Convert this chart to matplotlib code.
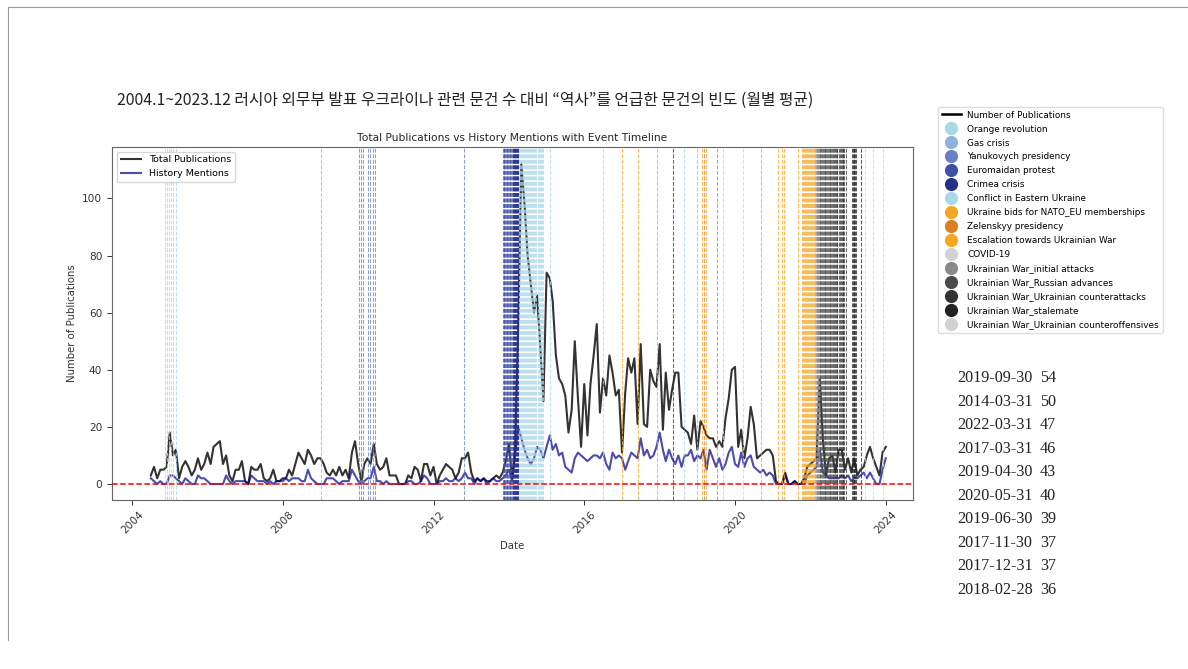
import numpy as np
import pandas as pd
import matplotlib
matplotlib.use('Agg')
import matplotlib.pyplot as plt
import matplotlib.dates as mdates
from matplotlib.lines import Line2D

# monthly averages, Jun 2004 .. Dec 2023 (one row per calendar year)
months = pd.date_range('2004-06-30', '2023-12-31', freq='ME')

total_pubs = [
    3, 6, 2, 5, 5, 6, 18,
    10, 12, 2, 6, 8, 6, 3, 5, 9, 5, 7, 11,
    7, 13, 14, 15, 7, 10, 3, 1, 5, 5, 8, 1,
    0, 6, 5, 5, 7, 2, 1, 2, 5, 1, 1, 2,
    2, 5, 3, 7, 11, 9, 7, 12, 10, 7, 9, 9,
    7, 4, 3, 5, 3, 6, 3, 5, 2, 11, 15, 7,
    1, 7, 9, 7, 14, 7, 5, 6, 9, 3, 3, 3,
    0, 0, 0, 3, 2, 6, 5, 1, 7, 7, 3, 6,
    0, 3, 5, 7, 6, 5, 2, 4, 9, 9, 11, 4,
    1, 2, 1, 2, 1, 1, 2, 3, 2, 4, 8, 14,
    2, 12, 55, 112, 98, 80, 70, 60, 66, 48, 29, 74,
    72, 64, 45, 37, 35, 31, 18, 26, 50, 30, 13, 35,
    17, 35, 45, 56, 25, 37, 31, 45, 39, 31, 33, 11,
    32, 44, 39, 44, 21, 49, 21, 20, 40, 36, 34, 49,
    19, 39, 26, 33, 39, 39, 20, 19, 18, 14, 24, 12,
    22, 20, 17, 16, 16, 13, 15, 13, 23, 30, 40, 41,
    13, 19, 9, 16, 27, 21, 9, 10, 11, 12, 12, 10,
    1, 0, 0, 4, 0, 0, 1, 0, 0, 2, 6, 7,
    8, 9, 37, 16, 3, 9, 10, 4, 12, 12, 5, 9,
    4, 9, 3, 5, 6, 10, 13, 9, 6, 3, 11, 13,
]

history_mentions = [
    2, 1, 0, 1, 0, 0, 3,
    3, 2, 1, 0, 2, 1, 0, 0, 3, 2, 2, 1,
    0, 0, 0, 0, 0, 3, 1, 0, 1, 1, 1, 1,
    0, 3, 2, 1, 1, 1, 0, 1, 0, 1, 1, 1,
    2, 1, 2, 2, 2, 1, 1, 5, 2, 1, 0, 0,
    0, 2, 2, 2, 1, 0, 1, 1, 1, 5, 3, 1,
    0, 1, 2, 2, 6, 1, 1, 0, 1, 0, 0, 0,
    0, 0, 0, 1, 1, 0, 0, 1, 3, 2, 0, 0,
    0, 1, 1, 2, 1, 1, 2, 1, 2, 4, 2, 2,
    0, 2, 1, 2, 0, 1, 2, 1, 1, 2, 3, 5,
    1, 10, 20, 16, 12, 9, 7, 9, 13, 12, 9, 13,
    17, 12, 14, 10, 11, 6, 5, 4, 9, 11, 10, 9,
    8, 9, 10, 10, 9, 11, 7, 5, 11, 9, 10, 9,
    5, 8, 11, 10, 9, 16, 10, 12, 9, 10, 13, 18,
    12, 8, 12, 9, 7, 10, 6, 10, 10, 12, 8, 10,
    9, 12, 5, 12, 9, 6, 9, 5, 7, 11, 13, 7,
    6, 11, 6, 9, 10, 6, 5, 4, 5, 3, 4, 3,
    0, 0, 0, 3, 0, 0, 1, 0, 0, 0, 3, 4,
    5, 6, 12, 4, 3, 2, 2, 2, 2, 3, 2, 3,
    1, 2, 2, 3, 4, 2, 4, 2, 0, 0, 5, 9,
]

# event timeline
orange_revolution = ['2004-11-15', '2004-11-30', '2004-12-20', '2005-01-15', '2005-02-01', '2005-03-05']
gas_crisis = ['2009-01-01']
yanukovych = ['2010-01-10', '2010-01-28', '2010-02-12', '2010-04-08', '2010-04-28',
              '2010-05-25', '2010-06-14', '2012-10-25']
euromaidan = ['2013-11-01', '2013-11-09', '2013-11-17', '2013-11-25', '2013-12-02', '2013-12-09',
              '2013-12-16', '2013-12-23', '2013-12-30', '2014-01-07', '2014-01-14', '2014-01-21',
              '2014-01-28', '2014-02-04']
crimea = ['2014-02-10', '2014-02-16', '2014-02-21', '2014-02-26', '2014-03-03', '2014-03-08',
          '2014-03-13', '2014-03-18', '2014-03-23', '2014-03-28', '2014-04-02', '2018-05-12']
eastern_conflict = ['2014-04-07', '2014-04-17', '2014-04-27', '2014-05-07', '2014-05-17', '2014-05-27',
                    '2014-06-06', '2014-06-16', '2014-06-26', '2014-07-06', '2014-07-16', '2014-07-26',
                    '2014-08-05', '2014-08-15', '2014-08-25', '2014-09-04', '2014-09-14', '2014-09-24',
                    '2014-10-04', '2014-10-14', '2014-10-24', '2014-11-03', '2014-11-13', '2014-11-25',
                    '2015-02-05', '2016-07-01', '2018-08-25', '2019-09-01']
nato_eu = ['2017-01-01', '2017-06-06', '2017-12-02', '2019-01-01', '2019-02-10', '2019-03-28']
zelenskyy = ['2019-03-01', '2019-07-05']
escalation = ['2020-09-12', '2021-02-20', '2021-04-01', '2021-04-15', '2021-09-01', '2021-10-15',
              '2021-10-24', '2021-11-02', '2021-11-11', '2021-11-20', '2021-11-29', '2021-12-08',
              '2021-12-17', '2021-12-26', '2022-01-04', '2022-01-13', '2022-01-22', '2022-01-31',
              '2022-02-09', '2022-02-18']
covid = ['2020-03-15']
initial_attacks = ['2022-02-24', '2022-03-01', '2022-03-06', '2022-03-11', '2022-03-16', '2022-03-21',
                   '2022-03-26', '2022-03-31']
russian_advances = ['2022-04-07', '2022-04-15', '2022-04-23', '2022-05-01', '2022-05-09', '2022-05-17',
                    '2022-05-25', '2022-06-02', '2022-06-10', '2022-06-18', '2022-06-26', '2022-07-04',
                    '2022-07-12', '2022-07-20', '2022-07-28']
counterattacks = ['2022-08-06', '2022-08-16', '2022-08-26', '2022-09-05', '2022-09-12', '2022-09-19',
                  '2022-09-29', '2022-10-09', '2022-10-19', '2022-10-29', '2022-11-08', '2022-11-15',
                  '2022-11-25', '2022-12-12']
stalemate = ['2023-02-10', '2023-02-17', '2023-02-24', '2023-03-03', '2023-03-10', '2023-03-20', '2023-05-08']
counteroffensives = ['2023-06-10', '2023-08-30', '2023-12-05']

event_names = ['Orange revolution', 'Gas crisis', 'Yanukovych presidency', 'Euromaidan protest',
               'Crimea crisis', 'Conflict in Eastern Ukraine', 'Ukraine bids for NATO_EU memberships',
               'Zelenskyy presidency', 'Escalation towards Ukrainian War', 'COVID-19',
               'Ukrainian War_initial attacks', 'Ukrainian War_Russian advances',
               'Ukrainian War_Ukrainian counterattacks', 'Ukrainian War_stalemate',
               'Ukrainian War_Ukrainian counteroffensives']
event_dates = [orange_revolution, gas_crisis, yanukovych, euromaidan, crimea, eastern_conflict,
               nato_eu, zelenskyy, escalation, covid, initial_attacks, russian_advances,
               counterattacks, stalemate, counteroffensives]
event_colors = ['#a9d8e8', '#8db3d9', '#6a7fc4', '#3f50a6', '#262f8a', '#a9d8e8', '#f7a623',
                '#e07d24', '#f7a623', '#d2d2d2', '#8a8a8a', '#4a4a4a', '#333333', '#222222', '#d2d2d2']

# side table: top months
table_dates = ['2019-09-30', '2014-03-31', '2022-03-31', '2017-03-31', '2019-04-30',
               '2020-05-31', '2019-06-30', '2017-11-30', '2017-12-31', '2018-02-28']
table_counts = [54, 50, 47, 46, 43, 40, 39, 37, 37, 36]

W, H = 1188, 669
fig = plt.figure(figsize=(W / 100, H / 100), dpi=100)
plt.rcParams['font.family'] = ['DejaVu Sans']

# slide frame
fig.add_artist(Line2D([8 / W, 1], [1 - 7 / H, 1 - 7 / H], transform=fig.transFigure, color='#9a9a9a', lw=0.8))
fig.add_artist(Line2D([8 / W, 8 / W], [1 - 7 / H, 1 - 640 / H], transform=fig.transFigure, color='#9a9a9a', lw=0.8))

fig.text(117 / W, 1 - 100 / H,
         '2004.1~2023.12 러시아 외무부 발표 우크라이나 관련 문건 수 대비 \u201c역사\u201d를 언급한 문건의 빈도 (월별 평균)',
         family=['Noto Sans CJK KR', 'DejaVu Sans'], fontsize=11.4, va='center', ha='left', color='#222222')

ax = fig.add_axes([112 / W, 1 - 500 / H, (913 - 112) / W, (500 - 147) / H])
ax.plot(months, total_pubs, color='black', alpha=0.8, lw=1.5, label='Total Publications')
ax.plot(months, history_mentions, color='darkblue', alpha=0.7, lw=1.5, label='History Mentions')
ax.legend(loc='upper left', fontsize=6.8, handlelength=2.2)

for dates, c in zip(event_dates, event_colors):
    for d in dates:
        ax.axvline(pd.Timestamp(d), color=c, linestyle='--', lw=0.75, alpha=0.75)

ax.axhline(0, color='red', linestyle='--', lw=1.1, zorder=4)

ax.set_xlim(pd.Timestamp('2003-06-20'), pd.Timestamp('2024-09-20'))
ax.set_ylim(-5.6, 118)
ax.xaxis.set_major_locator(mdates.YearLocator(4))
ax.xaxis.set_major_formatter(mdates.DateFormatter('%Y'))
ax.tick_params(labelsize=7.6, colors='#333333', length=3.5, width=0.7)
plt.setp(ax.get_xticklabels(), rotation=45)
for s in ax.spines.values():
    s.set_color('#666666')
    s.set_linewidth(0.8)
ax.set_title('Total Publications vs History Mentions with Event Timeline', fontsize=7.7, color='#222222', pad=4)
ax.set_xlabel('Date', fontsize=7.3, color='#333333')
ax.set_ylabel('Number of Publications', fontsize=7.3, color='#333333')

# event legend beside the axes
handles = [Line2D([0], [0], color='black', lw=1.8)]
for c in event_colors:
    handles.append(Line2D([0], [0], marker='o', color='none', markerfacecolor=c,
                          markeredgecolor='none', markersize=9.5))
fig.legend(handles, ['Number of Publications'] + event_names, loc='upper left',
           bbox_to_anchor=(938 / W, 1 - 107 / H), borderaxespad=0, fontsize=6.4,
           labelspacing=0.56, handlelength=2.2, handletextpad=0.7, borderpad=0.4,
           framealpha=1, edgecolor='#dddddd')

# top months table
for k, (d, n) in enumerate(zip(table_dates, table_counts)):
    y = 1 - (378 + k * 23.55) / H
    fig.text(957 / W, y, d, family='Liberation Serif', fontsize=11.6, va='center', color='#222222')
    fig.text(1040 / W, y, str(n), family='Liberation Serif', fontsize=11.6, va='center', color='#222222')

fig.savefig('out.png', dpi=100)
